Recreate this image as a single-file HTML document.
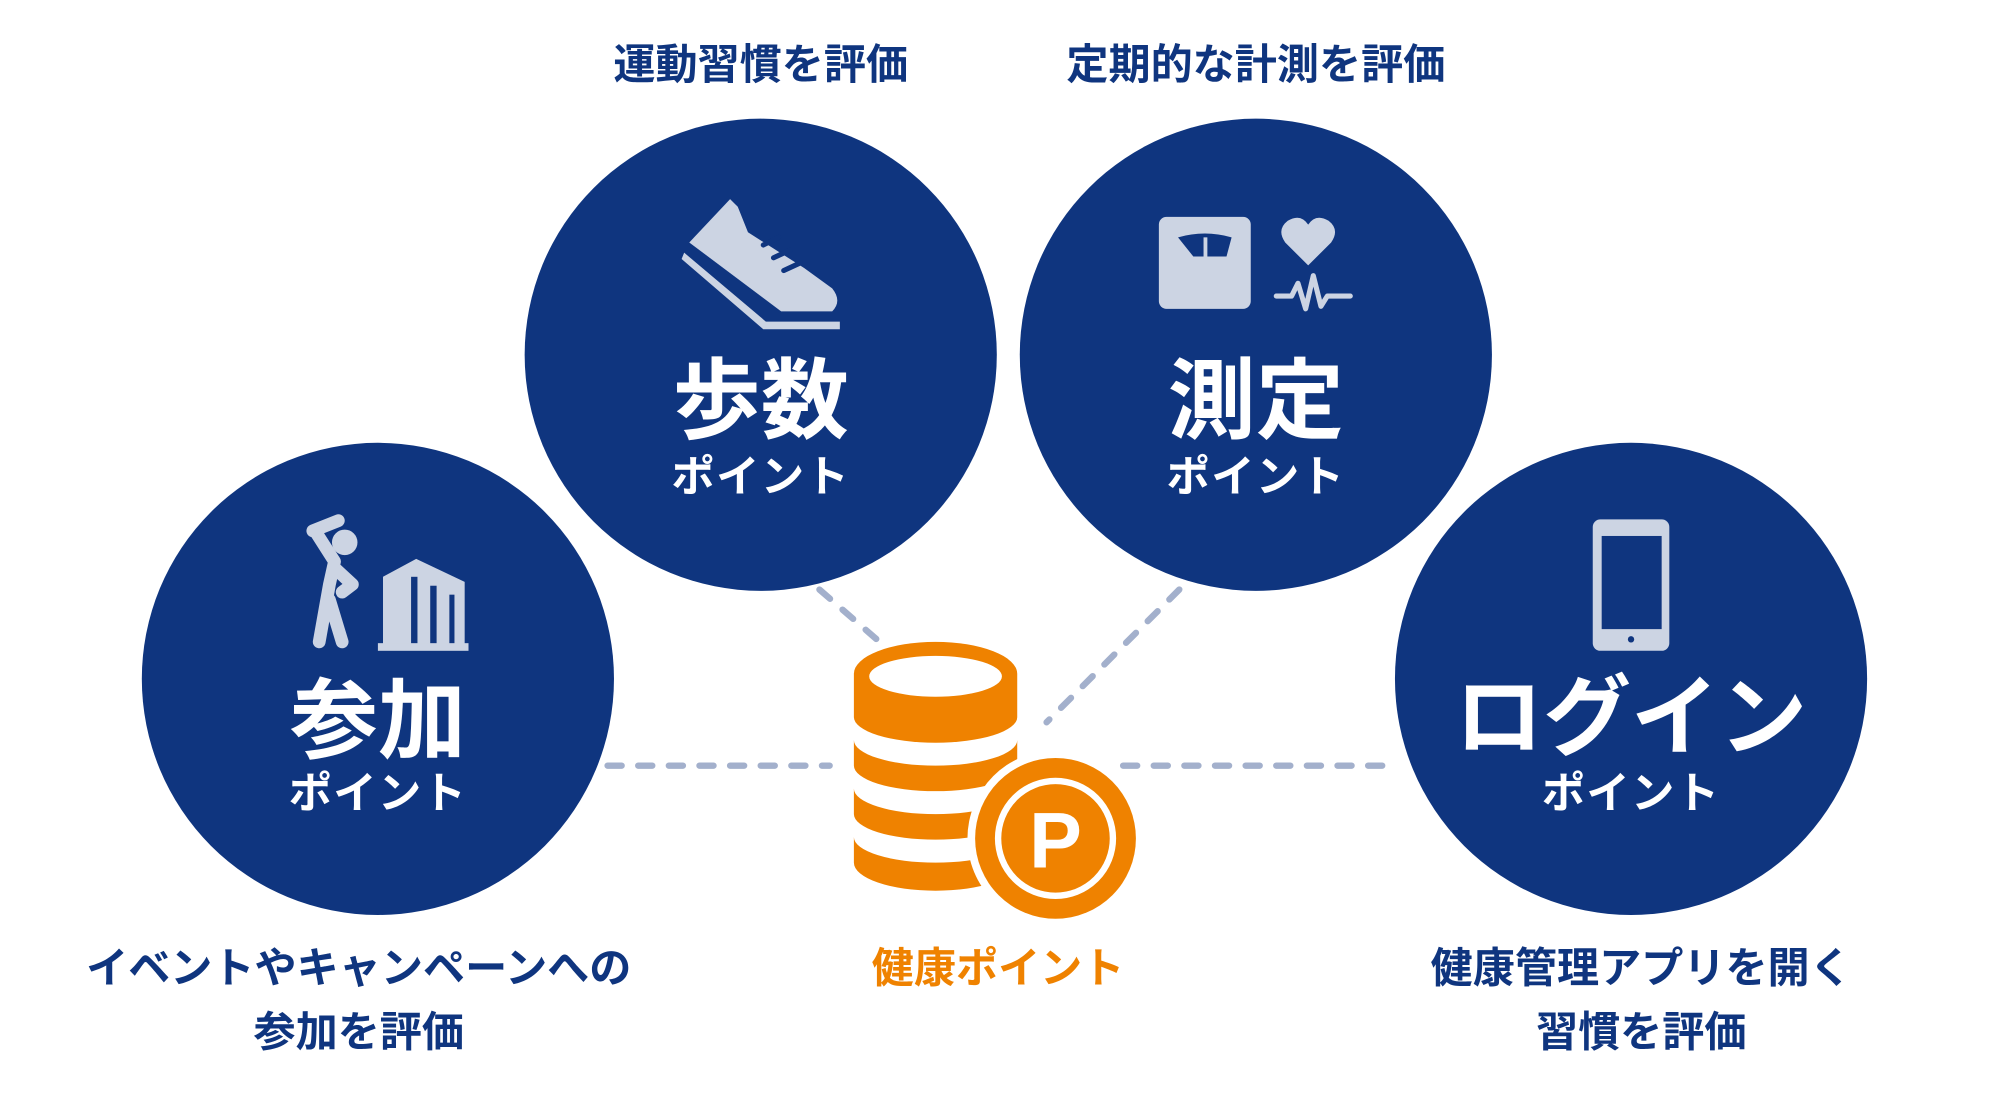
<!DOCTYPE html>
<html><head><meta charset="utf-8"><style>
html,body{margin:0;padding:0;background:#fff;}
svg{display:block;}
text{font-family:"Liberation Sans","Noto Sans CJK JP",sans-serif;font-weight:bold;}
</style></head><body>
<svg width="2000" height="1100" viewBox="0 0 1567 862" xmlns="http://www.w3.org/2000/svg">
<g stroke="#a3b0cc" stroke-width="5" stroke-linecap="round" stroke-dasharray="11 13" fill="none">
<line x1="642" y1="462" x2="688" y2="502"/>
<line x1="924" y1="462" x2="820" y2="566"/>
<line x1="476" y1="600" x2="650" y2="600"/>
<line x1="880" y1="600" x2="1094" y2="600"/>
</g>
<g fill="#0f357f">
<circle cx="296" cy="532" r="185"/>
<circle cx="596" cy="278" r="185"/>
<circle cx="984" cy="278" r="185"/>
<circle cx="1278" cy="532" r="185"/>
</g>
<g fill="#ccd4e3" stroke="#ccd4e3">
<circle cx="270" cy="425" r="10" stroke="none"/>
<path d="M245 416 L265 408 M248 418 L262 440 L258 458 L250 503 M262 445 L276 458 L268 464 M258 470 L268 503" stroke-width="10" stroke-linecap="round" stroke-linejoin="round" fill="none"/>
<path d="M300 452 L326 438 L364 456 L364 505 L300 505 Z" stroke="none"/>
<rect x="296" y="504" width="71" height="6" stroke="none"/>
</g>
<g fill="#0f357f"><rect x="322" y="452" width="5" height="52"/><rect x="337" y="459" width="5" height="45"/><rect x="352" y="466" width="4" height="38"/></g>
<g fill="#ccd4e3">
<path d="M572 156 L578 162 L586 182 L630 210 L652 226 Q660 236 652 244 L612 244 L540 190 Z"/>
<path d="M536 198 L600 252 L658 252 L658 258 L598 258 L534 203 Z"/>
</g>
<g stroke="#0f357f" stroke-width="4" stroke-linecap="round"><line x1="598" y1="192" x2="610" y2="186"/><line x1="606" y1="202" x2="619" y2="196"/><line x1="614" y1="212" x2="627" y2="206"/></g>
<rect x="908" y="170" width="72" height="72" rx="6" fill="#ccd4e3"/>
<path d="M923 186 Q944 180 965 186 L961 201 L935 201 Z" fill="#0f357f"/>
<rect x="943" y="186" width="3" height="15" fill="#ccd4e3"/>
<path d="M1025 208 L1007 190 Q1000 180 1009 173 Q1019 167 1025 176 Q1031 167 1041 173 Q1050 180 1043 190 Z" fill="#ccd4e3"/>
<path d="M1000 232 L1012 232 L1017 222 L1023 242 L1029 216 L1035 240 L1040 232 L1058 232" stroke="#ccd4e3" stroke-width="4" fill="none" stroke-linecap="round" stroke-linejoin="round"/>
<rect x="1248" y="407" width="60" height="103" rx="6" fill="#ccd4e3"/>
<rect x="1255" y="420" width="47" height="73" fill="#0f357f"/>
<circle cx="1278" cy="501" r="2.5" fill="#0f357f"/>
<g fill="#ef8200">
<path d="M669 528 A64 25 0 0 1 797 528 L797 562 A64 20 0 0 1 669 562 Z"/>
<path d="M669 580 A64 20 0 0 0 797 580 L797 600 A64 20 0 0 1 669 600 Z"/>
<path d="M669 618 A64 20 0 0 0 797 618 L797 638 A64 20 0 0 1 669 638 Z"/>
<path d="M669 656 A64 20 0 0 0 797 656 L797 676 A64 22 0 0 1 669 676 Z"/>
</g>
<ellipse cx="733" cy="530" rx="52" ry="16" fill="#fff"/>
<circle cx="827" cy="657" r="69" fill="#fff"/>
<circle cx="827" cy="657" r="63" fill="#ef8200"/>
<circle cx="827" cy="657" r="45" fill="none" stroke="#fff" stroke-width="5"/>
<text x="827" y="680" font-size="62" fill="#fff" text-anchor="middle">P</text>
<g fill="#0f357f" font-size="33" text-anchor="middle">
<text x="596" y="62">運動習慣を評価</text>
<text x="984" y="62">定期的な計測を評価</text>
<text x="281" y="770">イベントやキャンペーンへの</text>
<text x="281" y="820">参加を評価</text>
<text x="1286" y="770">健康管理アプリを開く</text>
<text x="1286" y="820">習慣を評価</text>
</g>
<text x="782" y="770" font-size="33" fill="#ef8200" text-anchor="middle">健康ポイント</text>
<g fill="#fff" text-anchor="middle">
<text x="596" y="338" font-size="69">歩数</text>
<text x="596" y="385" font-size="34" letter-spacing="1">ポイント</text>
<text x="984" y="338" font-size="69">測定</text>
<text x="984" y="385" font-size="34" letter-spacing="1">ポイント</text>
<text x="296" y="589" font-size="69">参加</text>
<text x="296" y="633" font-size="34" letter-spacing="1">ポイント</text>
<text x="1278" y="586" font-size="69">ログイン</text>
<text x="1278" y="633" font-size="34" letter-spacing="1">ポイント</text>
</g>
</svg>
</body></html>
